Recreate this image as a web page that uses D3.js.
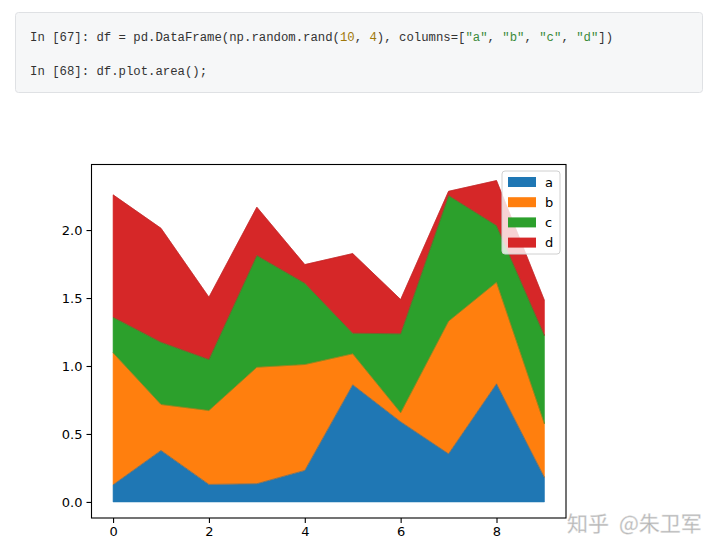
<!DOCTYPE html>
<html>
<head>
<meta charset="utf-8">
<script src="https://cdn.jsdelivr.net/npm/d3@7"></script>
<style>
  html, body { margin: 0; padding: 0; background: #fff; }
  svg { display: block; }
</style>
</head>
<body>
<svg id="chart" width="720" height="553"></svg>
<script>
// ---- data ----
const xValues = [0, 1, 2, 3, 4, 5, 6, 7, 8, 9];
const seriesNames = ["a", "b", "c", "d"];
const seriesA = [0.126, 0.379, 0.129, 0.134, 0.232, 0.862, 0.590, 0.354, 0.869, 0.180];
const seriesB = [0.971, 0.338, 0.544, 0.857, 0.779, 0.228, 0.066, 0.976, 0.747, 0.395];
const seriesC = [0.262, 0.458, 0.375, 0.822, 0.598, 0.151, 0.581, 0.924, 0.417, 0.649];
const seriesD = [0.900, 0.838, 0.458, 0.355, 0.137, 0.586, 0.252, 0.031, 0.331, 0.258];
const seriesColors = ["#1f77b4", "#ff7f0e", "#2ca02c", "#d62728"];
const xTicks = [0, 2, 4, 6, 8];
const yTicks = [0.0, 0.5, 1.0, 1.5, 2.0];

const svg = d3.select("#chart");

// ---- code cell above the chart ----
const code = svg.append("g");
code.append("rect")
  .attr("x", 15.5).attr("y", 12.5).attr("width", 687).attr("height", 80)
  .attr("rx", 3).attr("fill", "#f6f7f8").attr("stroke", "#dfe1e4");
const codeFont = "'Liberation Mono', 'DejaVu Sans Mono', monospace";
const line1 = code.append("text").attr("x", 30).attr("y", 40.5)
  .attr("font-family", codeFont).attr("font-size", 12.3).attr("fill", "#333")
  .style("white-space", "pre");
[["In [67]: df = pd.DataFrame(np.random.rand(", "#333"],
 ["10", "#a0780a"], [", ", "#333"], ["4", "#a0780a"], ["), columns=[", "#333"],
 ["\"a\"", "#3a8a3a"], [", ", "#333"], ["\"b\"", "#3a8a3a"], [", ", "#333"],
 ["\"c\"", "#3a8a3a"], [", ", "#333"], ["\"d\"", "#3a8a3a"], ["])", "#333"]]
  .forEach(([t, c]) => line1.append("tspan").attr("fill", c).text(t));
code.append("text").attr("x", 30).attr("y", 74.5)
  .attr("font-family", codeFont).attr("font-size", 12.3).attr("fill", "#333")
  .style("white-space", "pre")
  .text("In [68]: df.plot.area();");

// ---- chart ----
const plot = { left: 91.5, right: 566, top: 164.5, bottom: 518 };
const data = xValues.map((x, i) => ({
  x, a: seriesA[i], b: seriesB[i], c: seriesC[i], d: seriesD[i]
}));
const stack = d3.stack().keys(seriesNames);
const layers = stack(data);
const maxTotal = d3.max(layers[layers.length - 1], d => d[1]);

const xMin = d3.min(xValues), xMax = d3.max(xValues);
const xPad = (xMax - xMin) * 0.05;
const x = d3.scaleLinear().domain([xMin - xPad, xMax + xPad]).range([plot.left, plot.right]);
const y = d3.scaleLinear().domain([-0.05 * maxTotal, 1.05 * maxTotal]).range([plot.bottom, plot.top]);

const area = d3.area()
  .x(d => x(d.data.x))
  .y0(d => y(d[0]))
  .y1(d => y(d[1]));
const topLine = d3.line().x(d => x(d.data.x)).y(d => y(d[1]));

const g = svg.append("g");
layers.forEach((layer, i) => {
  g.append("path").attr("d", area(layer))
    .attr("fill", seriesColors[i])
    .attr("stroke", seriesColors[i]).attr("stroke-width", 0.6);
});
layers.forEach((layer, i) => {
  g.append("path").attr("d", topLine(layer))
    .attr("fill", "none")
    .attr("stroke", d3.color(seriesColors[i]).darker(0.5))
    .attr("stroke-opacity", 0.55)
    .attr("stroke-width", 0.9);
});

// axes
const tickFont = "'DejaVu Sans', sans-serif";
const xAxis = d3.axisBottom(x).tickValues(xTicks).tickFormat(d3.format("d")).tickSize(5).tickPadding(4);
const yAxis = d3.axisLeft(y).tickValues(yTicks).tickFormat(d3.format(".1f")).tickSize(5).tickPadding(4);
const gx = svg.append("g").attr("transform", `translate(0,${plot.bottom})`).call(xAxis);
const gy = svg.append("g").attr("transform", `translate(${plot.left},0)`).call(yAxis);
[gx, gy].forEach(ax => {
  ax.select(".domain").remove();
  ax.selectAll("line").attr("stroke", "#000").attr("stroke-width", 1.1);
  ax.selectAll("text").attr("font-family", tickFont).attr("font-size", 13).attr("fill", "#000");
});

// spines
svg.append("rect")
  .attr("x", plot.left).attr("y", plot.top)
  .attr("width", plot.right - plot.left).attr("height", plot.bottom - plot.top)
  .attr("fill", "none").attr("stroke", "#000").attr("stroke-width", 1.1);

// legend
const lg = svg.append("g").attr("transform", "translate(502,171)");
lg.append("rect").attr("x", 0).attr("y", 0).attr("width", 58).attr("height", 83)
  .attr("rx", 3).attr("fill", "#fff").attr("fill-opacity", 0.8)
  .attr("stroke", "#d0d0d0").attr("stroke-width", 1);
seriesNames.forEach((name, i) => {
  lg.append("rect").attr("x", 6).attr("y", 6 + i * 20.2).attr("width", 28).attr("height", 10)
    .attr("fill", seriesColors[i]);
  lg.append("text").attr("x", 43).attr("y", 11 + i * 20.2).attr("dy", "0.35em")
    .attr("font-family", tickFont).attr("font-size", 13).attr("fill", "#000")
    .text(name);
});

// watermark
const wm = svg.append("g").attr("font-family", "'Noto Sans CJK SC', sans-serif")
  .attr("font-size", 21).attr("fill", "#b4b4b4").attr("stroke", "#e6e6e6").attr("stroke-width", 0.4);
wm.append("text").attr("x", 567).attr("y", 531).text("知乎");
wm.append("text").attr("x", 619).attr("y", 531).text("@朱卫军");
</script>
</body>
</html>
